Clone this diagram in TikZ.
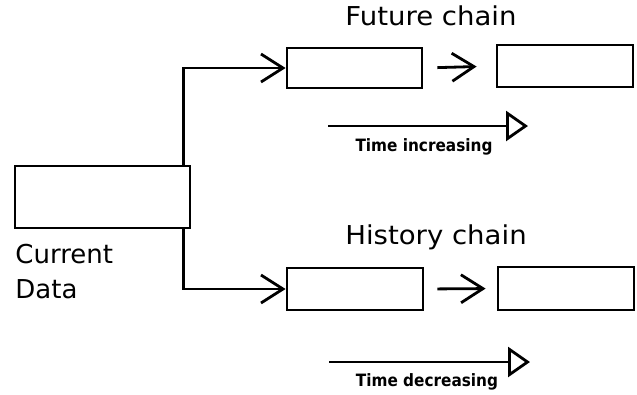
\documentclass[tikz,border=0pt]{standalone}
\usepackage{fontspec}
\setmainfont{DejaVu Sans}
\usetikzlibrary{arrows.meta}
\begin{document}
\begin{tikzpicture}[x=1pt,y=-1pt,
  every path/.style={line width=2.8pt},
  datbox/.style={draw, line width=2.8pt, inner sep=0pt},
  lbl/.style={font=\fontsize{26}{30}\selectfont, inner sep=0pt},
  timelbl/.style={font=\fontsize{17}{20}\selectfont\bfseries, inner sep=0pt},
  link/.style={line width=2.8pt, -{Straight Barb[length=22pt,width=28pt,line width=2.8pt]}},
  timearrow/.style={line width=2.8pt, -{Triangle[open,length=22pt,width=30pt,line width=2.8pt]}}]
  \useasboundingbox (0,0) rectangle (637,394);

  % data records
  \node[datbox, minimum width=175pt, minimum height=62pt] (cur) at (102.5,197) {};
  \node[datbox, minimum width=135pt, minimum height=40pt] (f1) at (354.5,68) {};
  \node[datbox, minimum width=136pt, minimum height=42pt] (f2) at (565,66) {};
  \node[datbox, minimum width=136pt, minimum height=42pt] (h1) at (355,289) {};
  \node[datbox, minimum width=136pt, minimum height=43pt] (h2) at (566,288.5) {};

  % labels
  \node[lbl, anchor=base] (fc) at (431,25) {\scalebox{1.06}[1]{Future chain}};
  \node[lbl, anchor=base] (hc) at (436,244) {\scalebox{1.06}[1]{History chain}};
  \node[lbl, anchor=base west] (cd1) at (14,263) {Current};
  \node[lbl, anchor=base west] (cd2) at (14,298) {Data};
  \node[timelbl, anchor=base] (ti) at (424,151) {\scalebox{0.9}[1]{Time increasing}};
  \node[timelbl, anchor=base] (td) at (427,386) {\scalebox{0.9}[1]{Time decreasing}};

  % branches from the current record
  \draw[link] ([xshift=-8pt]cur.north east) |- (f1.west);
  \draw[link] ([xshift=-8pt]cur.south east) |- (h1.west);

  % chain links
  \draw[link, shorten <=14pt, shorten >=19pt] (f1.east) -- (f2.west);
  \draw[link, shorten <=13pt, shorten >=11pt] (h1.east) -- (h2.west);

  % time direction arrows
  \coordinate (ta) at (328,126);
  \coordinate (tb) at (528,126);
  \coordinate (tc) at (329,362);
  \coordinate (tdd) at (530,362);
  \draw[timearrow] (ta) -- (tb);
  \draw[timearrow] (tc) -- (tdd);
\end{tikzpicture}
\end{document}
